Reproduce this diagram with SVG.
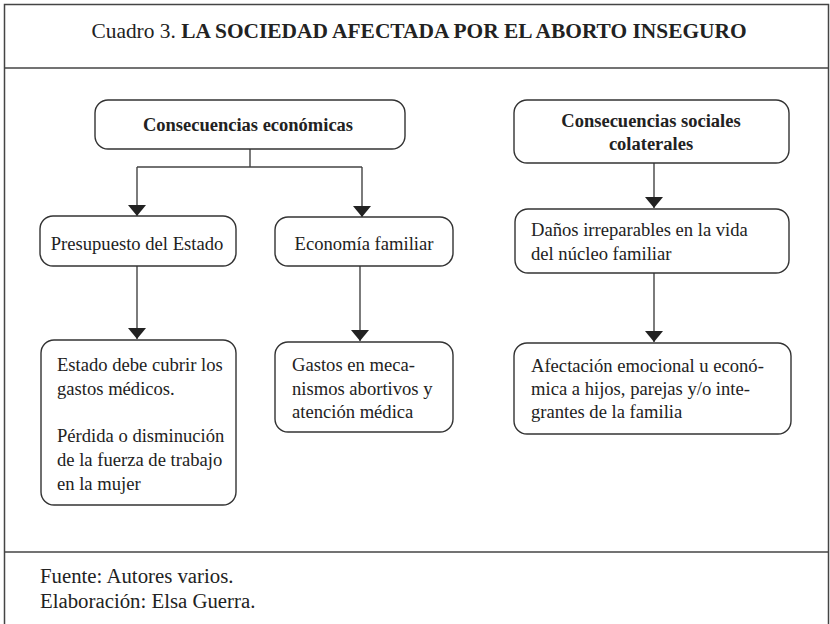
<svg xmlns="http://www.w3.org/2000/svg" width="830" height="624" viewBox="0 0 830 624">
<style>
text{font-family:"Liberation Serif","Tinos","Times New Roman","DejaVu Serif",serif;fill:#222;font-size:18.6px}
.b{font-weight:bold;font-size:18.5px}
.ft{font-size:20.8px}
.box{fill:#fff;stroke:#333;stroke-width:1.4}
.frame{fill:none;stroke:#444;stroke-width:1.5}
.ln{fill:none;stroke:#444;stroke-width:1.4}
</style>
<defs>
<marker id="ah" markerUnits="userSpaceOnUse" viewBox="0 0 18 11" refX="9" refY="11" markerWidth="18" markerHeight="11" orient="0">
<path d="M0 0 L18 0 L9 11 Z" fill="#222"/>
</marker>
</defs>
<rect width="830" height="624" fill="#fff"/>
<g id="frame">
<path class="frame" d="M4.5 630 V4.5 H828.5 V630"/>
<line class="frame" x1="4.5" y1="68" x2="828.5" y2="68"/>
<line class="frame" x1="4.5" y1="552" x2="828.5" y2="552"/>
</g>
<g id="title"><text x="419" y="38" text-anchor="middle" style="font-size:21.4px">Cuadro 3. <tspan style="font-weight:bold">LA SOCIEDAD AFECTADA POR EL ABORTO INSEGURO</tspan></text></g>
<g id="connectors">
<path class="ln" d="M250 149 V167 M137 167 H362"/>
<path class="ln" d="M137 167 V216" marker-end="url(#ah)"/>
<path class="ln" d="M362 167 V217" marker-end="url(#ah)"/>
<path class="ln" d="M137 266 V339" marker-end="url(#ah)"/>
<path class="ln" d="M360 266 V341" marker-end="url(#ah)"/>
<path class="ln" d="M654 163 V208" marker-end="url(#ah)"/>
<path class="ln" d="M654 273 V342" marker-end="url(#ah)"/>
</g>
<g id="n-econ"><rect class="box" x="95" y="100" width="310" height="49" rx="13"/><text class="b" x="248" y="131" text-anchor="middle">Consecuencias económicas</text></g>
<g id="n-social"><rect class="box" x="514" y="100" width="275" height="63" rx="13"/><text class="b" x="651" y="127" text-anchor="middle">Consecuencias sociales</text><text class="b" x="651" y="150" text-anchor="middle">colaterales</text></g>
<g id="n-presupuesto"><rect class="box" x="40" y="216" width="196" height="50" rx="13"/><text x="137" y="250" text-anchor="middle">Presupuesto del Estado</text></g>
<g id="n-economia"><rect class="box" x="275" y="217" width="178" height="49" rx="13"/><text x="364" y="250" text-anchor="middle">Economía familiar</text></g>
<g id="n-danos"><rect class="box" x="515" y="209" width="274" height="64" rx="13"/><text x="531" y="236">Daños irreparables en la vida</text><text x="531" y="260">del núcleo familiar</text></g>
<g id="n-estado"><rect class="box" x="41" y="340" width="195" height="165" rx="13"/><text x="57" y="371">Estado debe cubrir los</text><text x="57" y="395">gastos médicos.</text><text x="57" y="442">Pérdida o disminución</text><text x="57" y="466">de la fuerza de trabajo</text><text x="57" y="490">en la mujer</text></g>
<g id="n-gastos"><rect class="box" x="275" y="342" width="178" height="90" rx="13"/><text x="292" y="371">Gastos en meca-</text><text x="292" y="395">nismos abortivos y</text><text x="292" y="418">atención médica</text></g>
<g id="n-afectacion"><rect class="box" x="514" y="343" width="277" height="91" rx="13"/><text x="531" y="372">Afectación emocional u econó-</text><text x="531" y="395">mica a hijos, parejas y/o inte-</text><text x="531" y="418">grantes de la familia</text></g>
<g id="footer"><text class="ft" x="40" y="583">Fuente: Autores varios.</text><text class="ft" x="40" y="608">Elaboración: Elsa Guerra.</text></g>
</svg>
